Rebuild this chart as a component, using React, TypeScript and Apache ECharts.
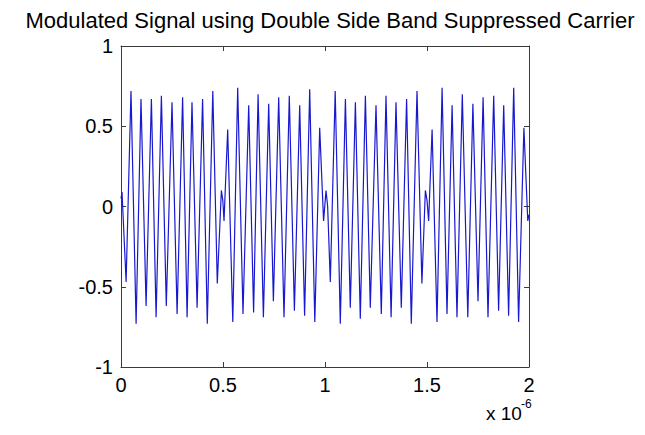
import React, { useEffect, useRef } from "react";
import * as echarts from "echarts";

const titleText = "Modulated Signal using Double Side Band Suppressed Carrier";
const xTicks = [0, 0.5, 1, 1.5, 2];
const yTicks = [-1, -0.5, 0, 0.5, 1];

// time in units of 1e-6 s
const times = [
  0, 0.005, 0.025, 0.049, 0.074, 0.098, 0.123, 0.149, 0.172, 0.198, 0.222, 0.25, 0.275, 0.302,
  0.324, 0.348, 0.373, 0.4, 0.423, 0.45, 0.472, 0.492, 0.499, 0.505, 0.523, 0.548, 0.572, 0.598,
  0.626, 0.65, 0.672, 0.698, 0.724, 0.747, 0.773, 0.799, 0.825, 0.85, 0.876, 0.9, 0.925, 0.95,
  0.974, 0.993, 1.005, 1.013, 1.026, 1.05, 1.075, 1.1, 1.124, 1.149, 1.173, 1.198, 1.222, 1.25,
  1.276, 1.299, 1.324, 1.348, 1.374, 1.4, 1.423, 1.451, 1.475, 1.492, 1.5, 1.508, 1.525, 1.549,
  1.574, 1.598, 1.623, 1.647, 1.673, 1.7, 1.725, 1.75, 1.775, 1.799, 1.827, 1.851, 1.876, 1.9,
  1.925, 1.949, 1.975, 1.994, 2.0,
];
const values = [
  0.05, 0.09, -0.47, 0.72, -0.73, 0.67, -0.62, 0.67, -0.69, 0.69, -0.62, 0.65, -0.67, 0.68,
  -0.69, 0.65, -0.63, 0.67, -0.73, 0.72, -0.48, 0.1, 0.04, -0.09, 0.48, -0.72, 0.74, -0.67,
  0.63, -0.66, 0.7, -0.69, 0.64, -0.59, 0.68, -0.69, 0.69, -0.65, 0.63, -0.68, 0.73, -0.72,
  0.49, -0.09, 0.1, 0.0, -0.47, 0.72, -0.73, 0.67, -0.63, 0.65, -0.7, 0.69, -0.63, 0.63,
  -0.67, 0.69, -0.69, 0.65, -0.63, 0.67, -0.73, 0.72, -0.48, 0.1, 0.04, -0.09, 0.48, -0.72,
  0.74, -0.67, 0.63, -0.69, 0.7, -0.69, 0.64, -0.59, 0.68, -0.69, 0.69, -0.65, 0.63, -0.68,
  0.74, -0.72, 0.49, -0.09, -0.05,
];

const FONT = "'Liberation Sans', Arial, sans-serif";
const AXIS_COLOR = "#3a3a3a";

export default function App() {
  const ref = useRef<HTMLDivElement>(null);
  useEffect(() => {
    if (!ref.current) return;
    const chart = echarts.init(ref.current, undefined, { renderer: "svg" });
    const data = times.map((t, i) => [t, values[i]]);
    const axisCommon = {
      type: "value" as const,
      axisLine: { show: true, onZero: false, lineStyle: { color: AXIS_COLOR, width: 1 } },
      axisTick: { show: true, inside: true, length: 5, lineStyle: { color: AXIS_COLOR } },
      splitLine: { show: false },
    };
    chart.setOption({
      animation: false,
      backgroundColor: "#ffffff",
      textStyle: { fontFamily: FONT },
      title: {
        text: titleText,
        left: 325,
        top: 4,
        textAlign: "center",
        textStyle: { fontFamily: FONT, fontSize: 22, fontWeight: "normal", color: "#000" },
      },
      grid: { left: 121, top: 46, width: 408, height: 321, containLabel: false },
      xAxis: [
        {
          ...axisCommon,
          position: "bottom",
          min: xTicks[0],
          max: xTicks[xTicks.length - 1],
          interval: 0.5,
          axisLabel: { show: true, fontSize: 20, color: "#000", fontFamily: FONT, margin: 8 },
        },
        {
          ...axisCommon,
          position: "top",
          min: xTicks[0],
          max: xTicks[xTicks.length - 1],
          interval: 0.5,
          axisLabel: { show: false },
        },
      ],
      yAxis: [
        {
          ...axisCommon,
          position: "left",
          min: yTicks[0],
          max: yTicks[yTicks.length - 1],
          interval: 0.5,
          axisLabel: { show: true, fontSize: 20, color: "#000", fontFamily: FONT, margin: 8 },
        },
        {
          ...axisCommon,
          position: "right",
          min: yTicks[0],
          max: yTicks[yTicks.length - 1],
          interval: 0.5,
          axisLabel: { show: false },
        },
      ],
      graphic: [
        {
          type: "text",
          left: 486,
          top: 404,
          style: { text: "x 10", fontSize: 19, fontFamily: FONT, fill: "#000" },
        },
        {
          type: "text",
          left: 521,
          top: 398,
          style: { text: "-6", fontSize: 12, fontFamily: FONT, fill: "#000" },
        },
      ],
      series: [
        {
          type: "line",
          data,
          showSymbol: false,
          symbol: "none",
          lineStyle: { color: "#1818d0", width: 1.2 },
          xAxisIndex: 0,
          yAxisIndex: 0,
        },
      ],
    });
    return () => chart.dispose();
  }, []);
  return (
    <div
      ref={ref}
      style={{ position: "fixed", left: 0, top: 0, width: 645, height: 435, background: "#fff" }}
    />
  );
}
